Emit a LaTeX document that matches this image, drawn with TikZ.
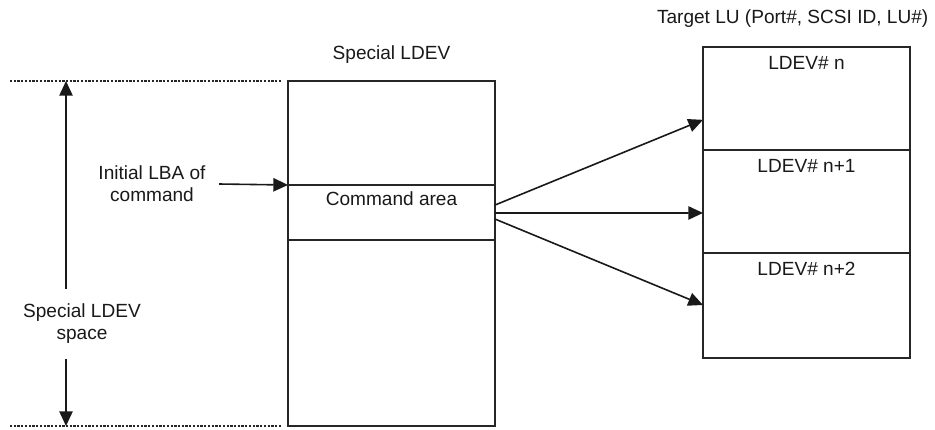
\documentclass[tikz,border=0pt]{standalone}
\usepackage{fontspec}
\setmainfont{Liberation Sans}
\usetikzlibrary{arrows.meta}

\begin{document}
\begin{tikzpicture}[x=0.75pt,y=-0.75pt,
    font=\fontsize{14.3}{16.5}\selectfont,
    every node/.style={text=black!90},
    part/.style={draw=black!85, line width=1.4pt, minimum width=155.25pt,
      inner sep=0pt, outer sep=0pt, anchor=north west},
    arrow/.style={draw=black!90, line width=1.2pt, -{Triangle[length=11pt,width=10pt]}},
    guide/.style={draw=black!85, line width=1.2pt, dash pattern=on 1.7pt off 1.1pt}]
  \useasboundingbox (0,0) rectangle (935,429);
  % special LDEV
  \node[part, minimum height=78pt] (upper) at (288,81) {};
  \node[part, minimum height=41.25pt] (cmd) at (288,185) {};
  \node[part, minimum height=139.5pt] (lower) at (288,240) {};
  \node[anchor=base] (title) at ([yshift=16.2pt]upper.north) {Special LDEV};
  \node[anchor=base] (cmdtext) at ([yshift=-15.5pt]cmd.north) {Command area};
  % target LU
  \node[part, minimum height=77.25pt] (lu1) at (703,47) {};
  \node[part, minimum height=77.25pt] (lu2) at (703,150) {};
  \node[part, minimum height=78.75pt] (lu3) at (703,253) {};
  \node[anchor=base east] (target) at (933,23.4) {Target LU (Port\#, SCSI ID, LU\#)};
  \node[anchor=base] (ldev1) at ([yshift=-17pt]lu1.north) {LDEV\# n};
  \node[anchor=base] (ldev2) at ([yshift=-17pt]lu2.north) {LDEV\# n+1};
  \node[anchor=base] (ldev3) at ([yshift=-17pt]lu3.north) {LDEV\# n+2};
  % space
  \draw[guide] (10,81) -- (282,81);
  \draw[guide] (10,426) -- (282,426);
  \coordinate (spacetop) at (66,81);
  \coordinate (spacebot) at (66,426);
  \node[align=center, inner ysep=11.5pt] (spacetext) at (82,324) {Special LDEV\\space};
  \draw[arrow] (spacetext.north -| spacetop) -- (spacetop);
  \draw[arrow] (spacetext.south -| spacebot) -- (spacebot);
  % command
  \node[align=center, inner xsep=10pt] (lba) at (152,184) {Initial LBA of\\command};
  \draw[arrow] (lba.east) -- (cmd.north west);
  \draw[arrow] ([yshift=5.6pt]cmd.east) -- ([yshift=-16pt]lu1.west);
  \draw[arrow] ([yshift=-0.4pt]cmd.east) -- ([yshift=-8.6pt]lu2.west);
  \draw[arrow] ([yshift=-4.9pt]cmd.east) -- ([yshift=0.4pt]lu3.west);
\end{tikzpicture}
\end{document}
